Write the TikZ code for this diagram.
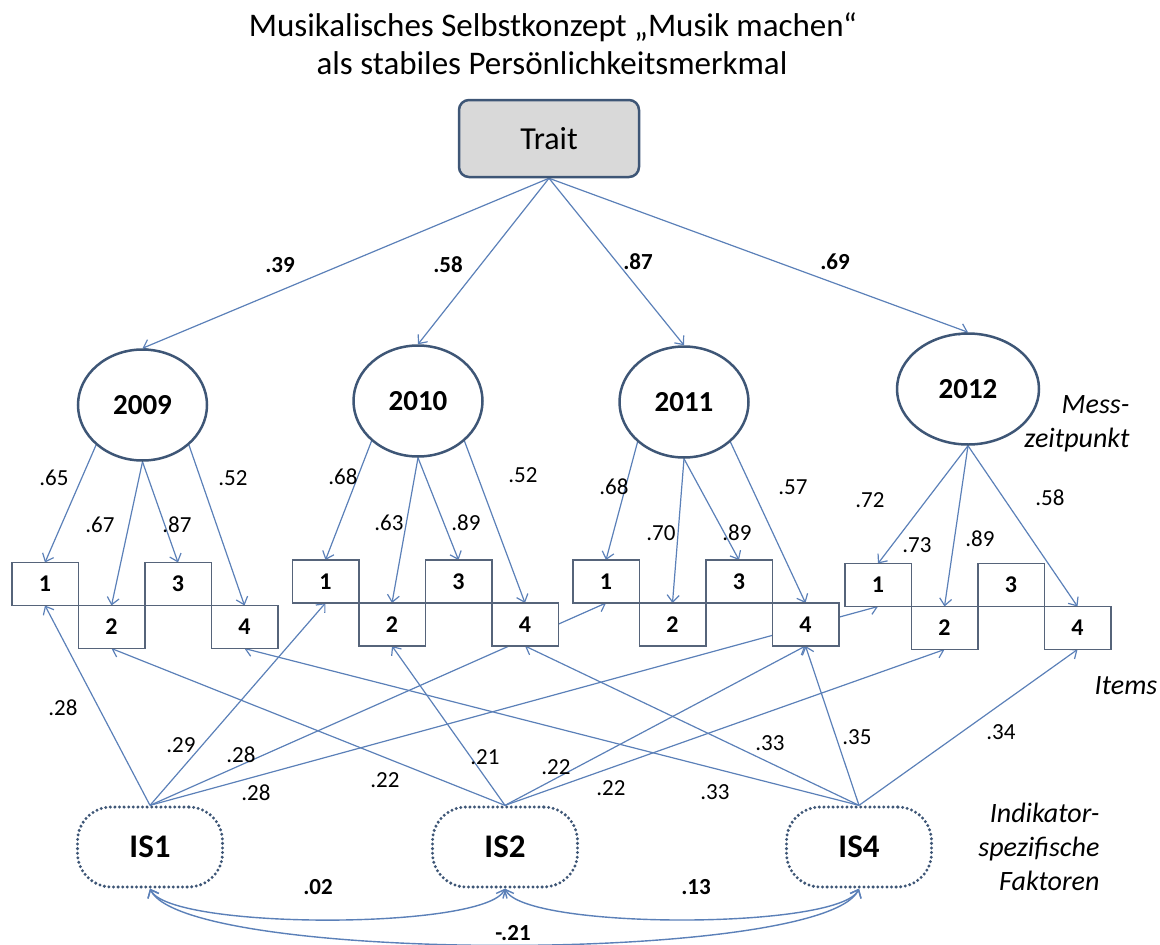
\documentclass[tikz,border=0pt]{standalone}
\usepackage{fontspec}
\setmainfont{Carlito}
\usetikzlibrary{arrows.meta,shapes.geometric,positioning,backgrounds}
\definecolor{arrowblue}{HTML}{5B80B8}
\definecolor{nodeblue}{HTML}{3E5676}
\definecolor{itemgray}{HTML}{56647A}
\definecolor{traitfill}{HTML}{D9D9D9}
\tikzset{every picture/.style={line width=1.2pt}}

\begin{document}
\begin{tikzpicture}[x=1pt,y=1pt,
    headline/.style={inner sep=0pt, font=\fontsize{33}{38}\selectfont},
    trait/.style={draw=nodeblue, line width=2.5pt, fill=traitfill, rounded corners=10pt,
        minimum width=180pt, minimum height=77pt, font=\fontsize{32}{36}\selectfont},
    occasion/.style={ellipse, draw=nodeblue, line width=2.5pt, minimum width=129pt,
        minimum height=111pt, font=\fontsize{29}{34}\selectfont\bfseries},
    item/.style={draw=itemgray, line width=1.5pt, fill=white, outer sep=0pt, inner sep=0pt,
        minimum width=66.5pt, minimum height=43pt, font=\fontsize{24}{28}\selectfont\bfseries},
    spec/.style={draw=nodeblue, line width=3.3pt, line cap=round, dash pattern=on 0pt off 4.6pt,
        fill=white, rounded corners=34pt, minimum width=145pt, minimum height=80pt,
        font=\fontsize{33}{38}\selectfont\bfseries},
    side/.style={inner sep=0pt, align=right, font=\fontsize{28}{34}\selectfont\itshape},
    coef/.style={inner sep=0pt, font=\fontsize{23}{27}\selectfont},
    coefb/.style={inner sep=0pt, font=\fontsize{23}{27}\selectfont\bfseries},
    load/.style={draw=arrowblue, line width=1.2pt, -{Straight Barb[length=7pt,width=12pt]}},
    cov/.style={draw=arrowblue, line width=1.4pt,
        {Straight Barb[length=7pt,width=12pt]}-{Straight Barb[length=7pt,width=12pt]}}]
    \useasboundingbox (0,0) rectangle (1160,-945);

    % title
    \node[headline, anchor=base] (head1) at (553,-36) {Musikalisches Selbstkonzept „Musik machen“};
    \node[headline, anchor=base] (head2) at (552,-74) {als stabiles Persönlichkeitsmerkmal};

    \node[trait] (trait) at (549,-138.5) {Trait};

    % occasions
    \node[occasion] (y2009) at (142.5,-405) {2009};
    \node[occasion] (y2010) at (418,-401) {2010};
    \node[occasion] (y2011) at (684,-402) {2011};
    \node[occasion, minimum width=142pt] (y2012) at (968,-389) {2012};

    % items
    \node[item] (a1) at (45,-584) {1};
    \node[item, below right=0pt of a1] (a2) {2};
    \node[item, above right=0pt of a2] (a3) {3};
    \node[item, below right=0pt of a3] (a4) {4};

    \node[item] (b1) at (325.5,-581.5) {1};
    \node[item, below right=0pt of b1] (b2) {2};
    \node[item, above right=0pt of b2] (b3) {3};
    \node[item, below right=0pt of b3] (b4) {4};

    \node[item] (c1) at (606,-581.5) {1};
    \node[item, below right=0pt of c1] (c2) {2};
    \node[item, above right=0pt of c2] (c3) {3};
    \node[item, below right=0pt of c3] (c4) {4};

    \node[item] (d1) at (878,-585) {1};
    \node[item, below right=0pt of d1] (d2) {2};
    \node[item, above right=0pt of d2] (d3) {3};
    \node[item, below right=0pt of d3] (d4) {4};

    % indicator specific factors
    \node[spec] (is1) at (150,-847) {IS1};
    \node[spec] (is2) at (505,-847) {IS2};
    \node[spec] (is4) at (859,-847) {IS4};

    \node[side, anchor=east] (mzp) at (1130,-424) {Mess-\\zeitpunkt};
    \node[side] (items) at (1126,-686) {Items};
    \node[side, anchor=east] (isfak) at (1100,-847) {Indikator-\\spezifische\\Faktoren};

    % coefficients
    \node[coefb] (tr1) at (280,-265) {.39};
    \node[coefb] (tr2) at (448,-265) {.58};
    \node[coefb] (tr3) at (638,-262) {.87};
    \node[coefb] (tr4) at (835,-262) {.69};

    \node[coef] (la1) at (54,-478) {.65};
    \node[coef] (la2) at (100,-525) {.67};
    \node[coef] (la3) at (177,-525) {.87};
    \node[coef] (la4) at (233,-478) {.52};
    \node[coef] (lb1) at (343,-477) {.68};
    \node[coef] (lb2) at (389,-523) {.63};
    \node[coef] (lb3) at (466,-523) {.89};
    \node[coef] (lb4) at (523,-475) {.52};
    \node[coef] (lc1) at (614,-487) {.68};
    \node[coef] (lc2) at (661,-533) {.70};
    \node[coef] (lc3) at (737,-533) {.89};
    \node[coef] (lc4) at (793,-487) {.57};
    \node[coef] (ld1) at (870,-500) {.72};
    \node[coef] (ld2) at (917,-545) {.73};
    \node[coef] (ld3) at (980,-539) {.89};
    \node[coef] (ld4) at (1050,-498) {.58};

    \node[coef] (s1a) at (63,-708) {.28};
    \node[coef] (s1b) at (181,-745) {.29};
    \node[coef] (s1c) at (241,-755) {.28};
    \node[coef] (s1d) at (256,-793) {.28};
    \node[coef] (s2a) at (385,-780) {.22};
    \node[coef] (s2b) at (485,-757) {.21};
    \node[coef] (s2c) at (556,-767) {.22};
    \node[coef] (s2d) at (611,-788) {.22};
    \node[coef] (s4a) at (715,-792) {.33};
    \node[coef] (s4b) at (770,-743) {.33};
    \node[coef] (s4c) at (857,-737) {.35};
    \node[coef] (s4d) at (1001,-732) {.34};

    \node[coefb] (r12) at (318,-887) {.02};
    \node[coefb] (r24) at (696,-887) {.13};
    \node[coefb] (r14) at (513,-933) {-.21};

    \begin{scope}[on background layer]
        \draw[load] (trait.south) -- (y2009.north);
        \draw[load] (trait.south) -- (y2010.north);
        \draw[load] (trait.south) -- (y2011.north);
        \draw[load] (trait.south) -- (y2012.north);

        \draw[load] (y2009.south west) -- (a1.north);
        \draw[load] (y2009.south) -- (a2.north);
        \draw[load] (y2009.south) -- (a3.north);
        \draw[load] (y2009.south east) -- (a4.north);
        \draw[load] (y2010.south west) -- (b1.north);
        \draw[load] (y2010.south) -- (b2.north);
        \draw[load] (y2010.south) -- (b3.north);
        \draw[load] (y2010.south east) -- (b4.north);
        \draw[load] (y2011.south west) -- (c1.north);
        \draw[load] (y2011.south) -- (c2.north);
        \draw[load] (y2011.south) -- (c3.north);
        \draw[load] (y2011.south east) -- (c4.north);
        \draw[load] (y2012.south) -- (d1.north);
        \draw[load] (y2012.south) -- (d2.north);
        \draw[load] (y2012.south) -- (d4.north);

        \draw[load] (is1.north) -- (a1.south);
        \draw[load] (is1.north) -- (b1.south);
        \draw[load] (is1.north) -- (c1.south);
        \draw[load] (is1.north) -- (d1.south);
        \draw[load] (is2.north) -- (a2.south);
        \draw[load] (is2.north) -- (b2.south);
        \draw[load] (is2.north) -- (c4.south);
        \draw[load] (is2.north) -- (d2.south);
        \draw[load] (is4.north) -- (a4.south);
        \draw[load] (is4.north) -- (b4.south);
        \draw[load] (is4.north) -- (c4.south);
        \draw[load] (is4.north) -- (d4.south);

        \draw[cov] (is1.south) to[out=-65, in=-115, looseness=0.33] (is2.south);
        \draw[cov] (is2.south) to[out=-65, in=-115, looseness=0.33] (is4.south);
        \draw[cov] (is1.south) to[out=-65, in=-115, looseness=0.3] (is4.south);
    \end{scope}
\end{tikzpicture}
\end{document}
